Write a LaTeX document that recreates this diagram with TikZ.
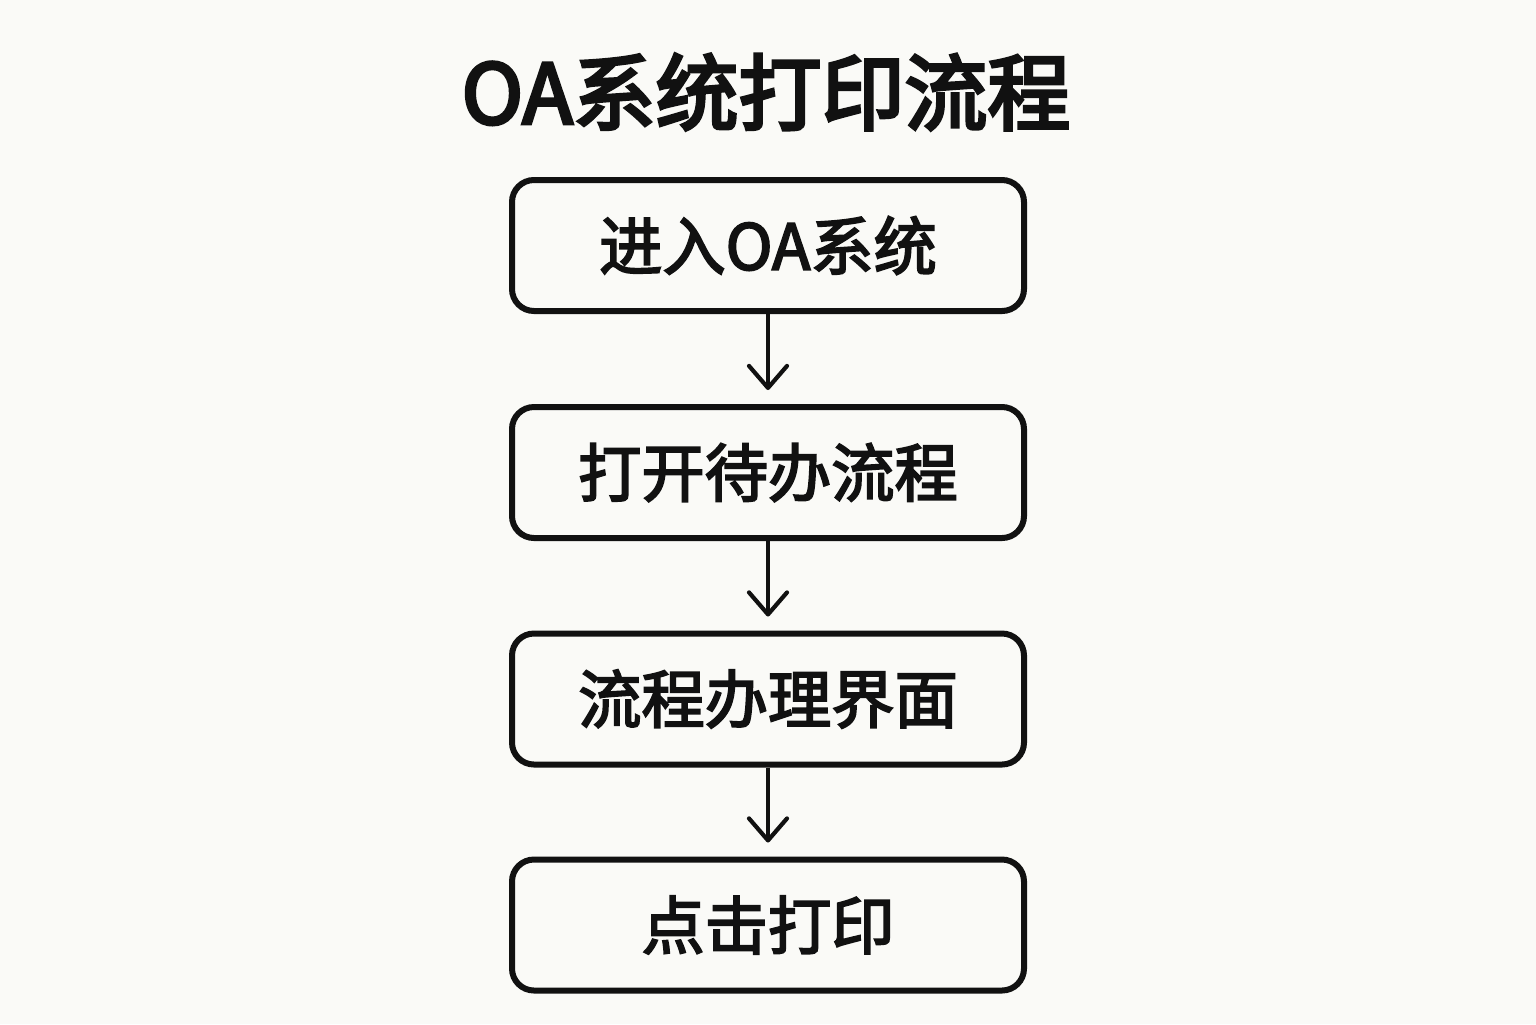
\documentclass[tikz,border=0pt]{standalone}
\usepackage{fontspec}
\newfontfamily\cjk{Noto Sans CJK SC}[FakeBold=3]
\newfontfamily\cjkhead{Noto Sans CJK SC}[FakeBold=4]
\usetikzlibrary{arrows.meta,positioning}
\definecolor{paper}{RGB}{250,250,247}
\definecolor{ink}{RGB}{17,17,17}

\begin{document}
\begin{tikzpicture}[
  stepbox/.style={draw=ink, line width=0.6mm, rounded corners=0.22cm, fill=paper,
                  minimum width=5.12cm, minimum height=1.31cm, align=center,
                  font=\cjk\fontsize{18pt}{20pt}\selectfont, text=ink},
  flow/.style={draw=ink, line width=0.42mm, shorten >=0.14cm,
               -{Straight Barb[length=2.2mm, width=3.8mm, round]}},
]
  \fill[paper] (0,0) rectangle (15.36,-10.24);
  \useasboundingbox (0,0) rectangle (15.36,-10.24);

  \node[font=\cjkhead\fontsize{23.6pt}{26pt}\selectfont, text=ink] (title) at (7.66,-0.92) {OA系统打印流程};

  \node[stepbox] (enter) at (7.68,-2.455) {进入OA系统};
  \node[stepbox] (todo)  at (7.68,-4.725) {打开待办流程};
  \node[stepbox] (handle) at (7.68,-6.99) {流程办理界面};
  \node[stepbox] (print) at (7.68,-9.25) {点击打印};

  % steps
  \draw[flow] (enter) -- (todo);
  \draw[flow] (todo) -- (handle);
  \draw[flow] (handle) -- (print);
\end{tikzpicture}
\end{document}
